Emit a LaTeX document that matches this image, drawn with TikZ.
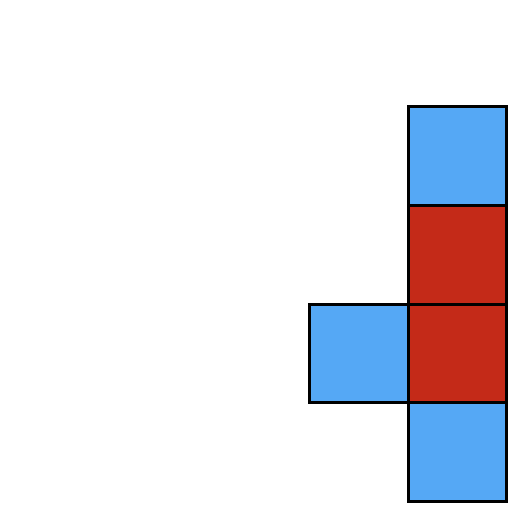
\documentclass[tikz,border=0pt]{standalone}
\usepackage{tikz}
\usetikzlibrary{positioning}

\definecolor{cellblue}{RGB}{85,168,245}
\definecolor{cellred}{RGB}{196,42,24}

\begin{document}
\begin{tikzpicture}[
    node distance=0pt,
    cell/.style={rectangle, draw=black, line width=3pt, minimum size=98.5pt, inner sep=0pt, outer sep=0pt}
]
\useasboundingbox (0,0) rectangle (518pt,514pt);
% Column of four cells, one extra cell on the left
\node[cell, fill=cellblue] (top) at (457.25pt,357.75pt) {};
\node[cell, fill=cellred, below=of top] (upper) {};
\node[cell, fill=cellred, below=of upper] (lower) {};
\node[cell, fill=cellblue, below=of lower] (bottom) {};
\node[cell, fill=cellblue, left=of lower] (side) {};
\end{tikzpicture}
\end{document}
